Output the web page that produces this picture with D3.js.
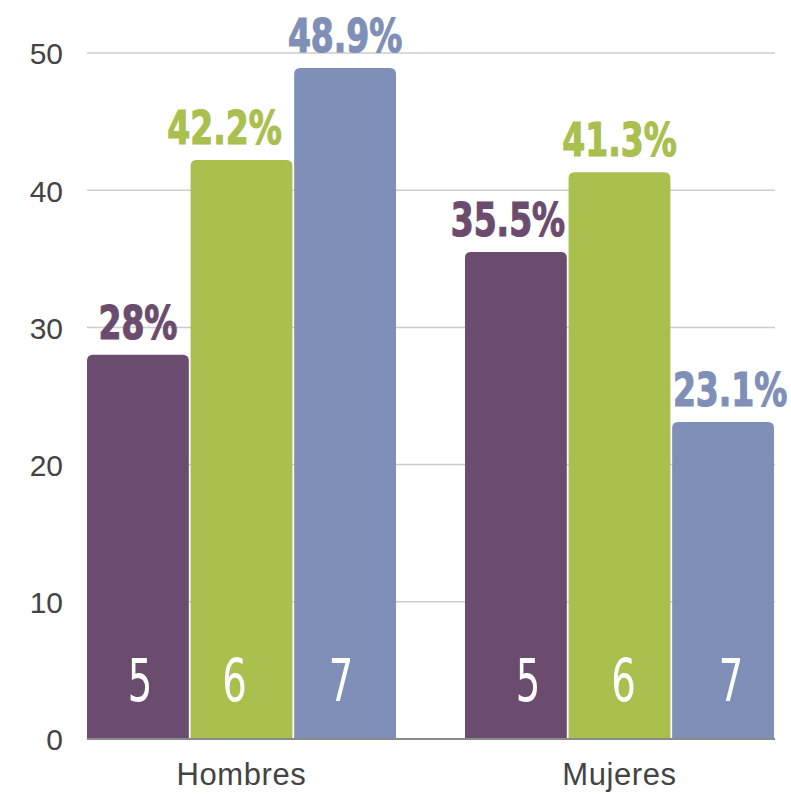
<!DOCTYPE html>
<html>
<head>
<meta charset="utf-8">
<script src="https://cdn.jsdelivr.net/npm/d3@7"></script>
<style>
  body { margin: 0; background: #fff; }
  .tick text { font-family: "Liberation Sans", Arial, sans-serif; fill: #444; }
</style>
</head>
<body>
<div id="chart"></div>
<script>
// data
var groups = ["Hombres", "Mujeres"];
var seriesNames = ["5", "6", "7"];
var values5 = [28, 35.5];
var values6 = [42.2, 41.3];
var values7 = [48.9, 23.1];
var valueLabels5 = ["28%", "35.5%"];
var valueLabels6 = ["42.2%", "41.3%"];
var valueLabels7 = ["48.9%", "23.1%"];
var yTicks = [0, 10, 20, 30, 40, 50];

var colors = ["#6b4c6e", "#a9bf4e", "#7f8fb7"];

// small nudges for the labels (they are not exactly centred in the original)
var topNudge = [[0, -17, 0], [-8, 0, 7]];
var bottomNudge = [[2, -7, -4], [12, 4, 8]];

var svgWidth = 791, svgHeight = 794;
var margin = { top: 53, right: 16, bottom: 55, left: 87 };
var chartWidth = svgWidth - margin.left - margin.right;
var chartHeight = svgHeight - margin.top - margin.bottom;

// condensed font faked with a horizontal squeeze
var condFont = "'DejaVu Sans Condensed', 'Liberation Sans Narrow', sans-serif";

var svg = d3.select("#chart").append("svg")
  .attr("width", svgWidth)
  .attr("height", svgHeight);

var chartGroup = svg.append("g")
  .attr("transform", `translate(${margin.left}, ${margin.top})`);

// build rows from the arrays
var allValues = [values5, values6, values7];
var allLabels = [valueLabels5, valueLabels6, valueLabels7];
var rows = groups.map(function(g, gi) {
  return seriesNames.map(function(s, si) {
    return { group: g, gi: gi, series: s, si: si, value: allValues[si][gi], label: allLabels[si][gi] };
  });
});

// scales
var x0 = d3.scaleBand()
  .domain(groups)
  .range([0, chartWidth - 1])
  .paddingInner(0.1825)
  .paddingOuter(0);

var x1 = d3.scaleBand()
  .domain(seriesNames)
  .range([0, x0.bandwidth()])
  .paddingInner(0.017);

var y = d3.scaleLinear()
  .domain([0, 50])
  .range([chartHeight, 0]);

// gridlines
chartGroup.append("g")
  .selectAll("line")
  .data(yTicks.filter(d => d > 0))
  .enter()
  .append("line")
  .attr("x1", 0)
  .attr("x2", chartWidth)
  .attr("y1", d => y(d))
  .attr("y2", d => y(d))
  .attr("stroke", "#cccccc")
  .attr("stroke-width", 1.5);

// y axis (labels only)
var leftAxis = d3.axisLeft(y).tickValues(yTicks).tickSize(0).tickPadding(24);
var yAxisG = chartGroup.append("g").call(leftAxis);
yAxisG.select(".domain").remove();
yAxisG.selectAll("text").attr("font-size", 30).attr("dy", "0.36em");

// bars with rounded tops
function barPath(x, yTop, w, h, r) {
  r = Math.min(r, h);
  return `M${x},${yTop + h}V${yTop + r}Q${x},${yTop} ${x + r},${yTop}H${x + w - r}Q${x + w},${yTop} ${x + w},${yTop + r}V${yTop + h}Z`;
}

var groupG = chartGroup.selectAll(".group")
  .data(rows)
  .enter()
  .append("g")
  .attr("class", "group")
  .attr("transform", (d, i) => `translate(${x0(groups[i])}, 0)`);

groupG.selectAll("path")
  .data(d => d)
  .enter()
  .append("path")
  .attr("d", d => barPath(x1(d.series), y(d.value), x1.bandwidth(), chartHeight - y(d.value), 6))
  .attr("fill", (d, i) => colors[i]);

// value labels above bars
groupG.selectAll(".valueLabel")
  .data(d => d)
  .enter()
  .append("text")
  .attr("class", "valueLabel")
  .attr("transform", d => `translate(${x1(d.series) + x1.bandwidth() / 2 + topNudge[d.gi][d.si]}, ${y(d.value) - 16}) scale(0.78, 1)`)
  .attr("text-anchor", "middle")
  .attr("font-family", condFont)
  .attr("font-weight", "bold")
  .attr("font-size", 47)
  .attr("fill", (d, i) => colors[i])
  .attr("stroke", (d, i) => colors[i])
  .attr("stroke-width", 1.2)
  .text(d => d.label);

// series numbers inside the bars
groupG.selectAll(".seriesLabel")
  .data(d => d)
  .enter()
  .append("text")
  .attr("class", "seriesLabel")
  .attr("transform", d => `translate(${x1(d.series) + x1.bandwidth() / 2 + bottomNudge[d.gi][d.si]}, ${chartHeight - 38}) scale(0.74, 1)`)
  .attr("text-anchor", "middle")
  .attr("font-family", condFont)
  .attr("font-size", 58)
  .attr("fill", "#ffffff")
  .text(d => d.series);

// baseline
chartGroup.append("line")
  .attr("x1", 0)
  .attr("x2", chartWidth)
  .attr("y1", chartHeight)
  .attr("y2", chartHeight)
  .attr("stroke", "#8a8a8a")
  .attr("stroke-width", 2);

// category labels
chartGroup.selectAll(".catLabel")
  .data(groups)
  .enter()
  .append("text")
  .attr("class", "catLabel")
  .attr("x", d => x0(d) + x0.bandwidth() / 2)
  .attr("y", chartHeight + 46)
  .attr("text-anchor", "middle")
  .attr("font-family", "'Liberation Sans', Arial, sans-serif")
  .attr("font-size", 31)
  .attr("letter-spacing", 0.6)
  .attr("fill", "#444")
  .text(d => d);
</script>
</body>
</html>
